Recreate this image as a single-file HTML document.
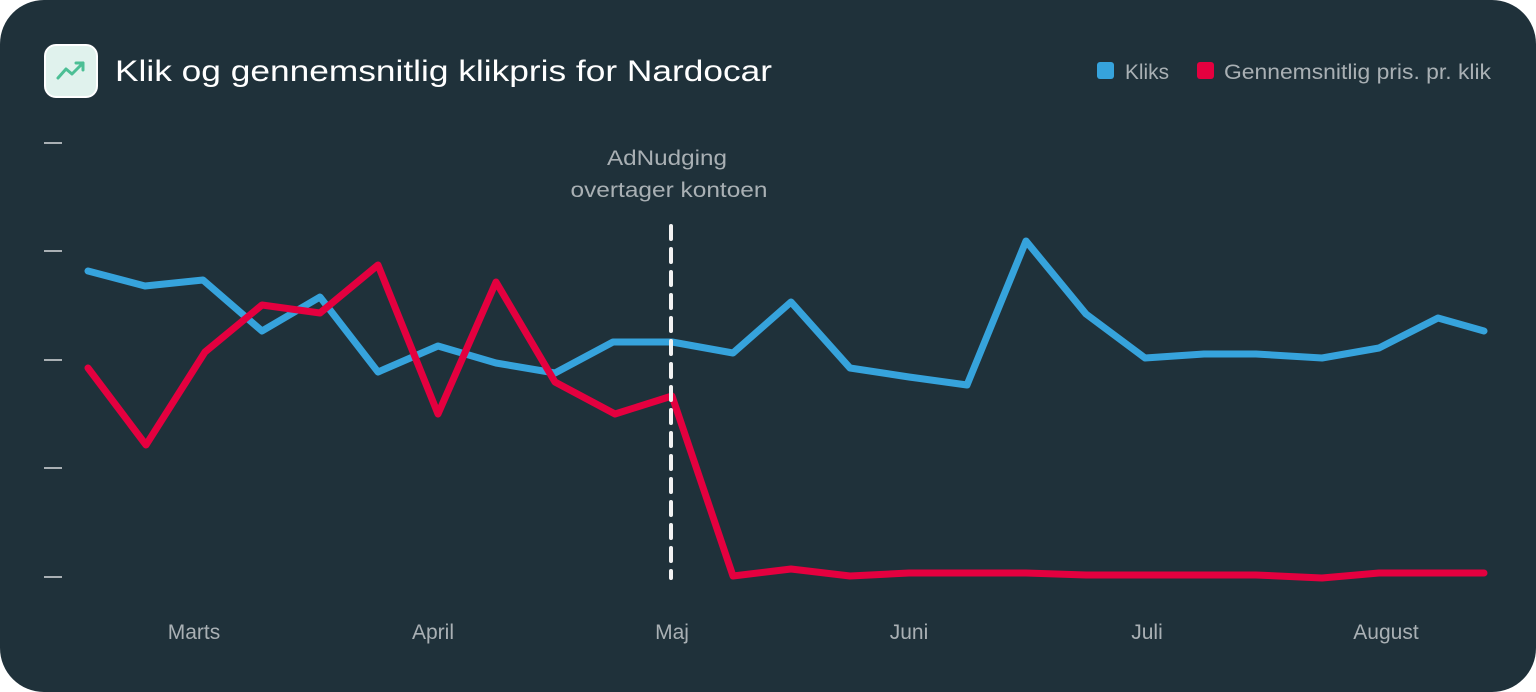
<!DOCTYPE html>
<html><head><style>
html,body{margin:0;padding:0;background:#fff;}
.card{position:absolute;left:0;top:0;width:1536px;height:692px;background:#1f313a;border-radius:44px;overflow:hidden;font-family:"Liberation Sans",sans-serif;}
</style></head><body>
<div class="card">
<svg width="1536" height="692" xmlns="http://www.w3.org/2000/svg" font-family="Liberation Sans, sans-serif">
<rect x="45" y="45" width="52" height="52" rx="11" fill="#e0f2ed" stroke="#fff" stroke-width="2"/>
<polyline points="58,78 66,69 72,74 83,63" fill="none" stroke="#4cbf95" stroke-width="3" stroke-linecap="round" stroke-linejoin="round"/>
<polyline points="76,63 83,63 83,70" fill="none" stroke="#4cbf95" stroke-width="3" stroke-linecap="round" stroke-linejoin="round"/>
<text x="115" y="81" font-size="30" fill="#fff" textLength="657" lengthAdjust="spacingAndGlyphs">Klik og gennemsnitlig klikpris for Nardocar</text>
<rect x="1097" y="62" width="17" height="17" rx="3" fill="#36a3dc"/>
<text x="1125" y="79" font-size="21" fill="#a9b0b4" textLength="44" lengthAdjust="spacingAndGlyphs">Kliks</text>
<rect x="1197" y="62" width="17" height="17" rx="3" fill="#e4003f"/>
<text x="1224" y="79" font-size="21" fill="#a9b0b4" textLength="267" lengthAdjust="spacingAndGlyphs">Gennemsnitlig pris. pr. klik</text>
<g stroke="#a9b0b4" stroke-width="2">
<line x1="44" x2="62" y1="143" y2="143"/><line x1="44" x2="62" y1="251" y2="251"/><line x1="44" x2="62" y1="360" y2="360"/><line x1="44" x2="62" y1="468" y2="468"/><line x1="44" x2="62" y1="577" y2="577"/>
</g>
<g font-size="21" fill="#a9b0b4" text-anchor="middle">
<text x="194" y="639">Marts</text><text x="433" y="639">April</text><text x="672" y="639">Maj</text><text x="909" y="639">Juni</text><text x="1147" y="639">Juli</text><text x="1386" y="639">August</text>
<text x="667" y="165" textLength="120" lengthAdjust="spacingAndGlyphs">AdNudging</text><text x="669" y="197" textLength="197" lengthAdjust="spacingAndGlyphs">overtager kontoen</text>
</g>
<polyline fill="none" stroke="#36a3dc" stroke-width="7" stroke-linejoin="round" stroke-linecap="round" points="88,271 145,286 203,280 262,331 320,297 378,372 438,346 496,363 555,373 613,342 672,342 733,353 791,302 850,368 909,377 967,385 1026,241 1086,314 1145,358 1204,354 1256,354 1322,358 1379,348 1438,318 1484,331"/>
<polyline fill="none" stroke="#e4003f" stroke-width="7" stroke-linejoin="round" stroke-linecap="round" points="88,368 146,445 205,352 262,305 320,313 378,265 438,414 496,282 555,382 615,414 672,396 733,576 791,569 850,576 909,573 967,573 1026,573 1086,575 1145,575 1204,575 1256,575 1322,578 1379,573 1438,573 1484,573"/>
<line x1="671" y1="226" x2="671" y2="578" stroke="#f2f2f2" stroke-width="4" stroke-dasharray="13,10" stroke-linecap="round"/>
</svg>
</div>
</body></html>
